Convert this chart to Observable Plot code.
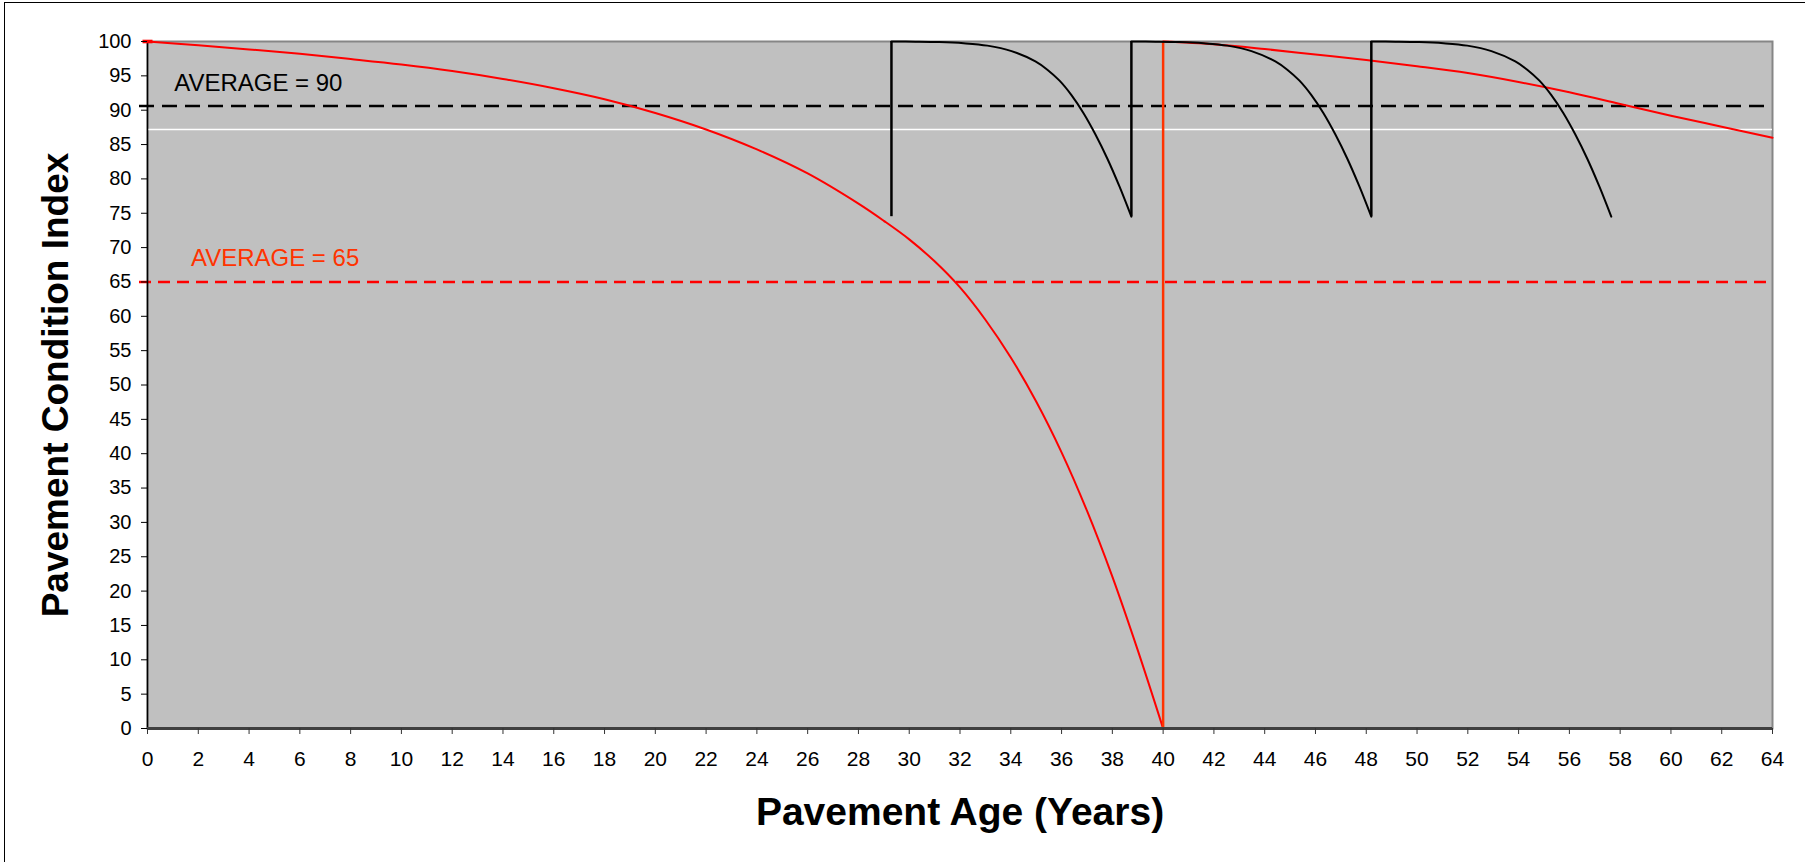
<!DOCTYPE html>
<html>
<head>
<meta charset="utf-8">
<script src="https://cdn.jsdelivr.net/npm/d3@7"></script>
<script src="https://cdn.jsdelivr.net/npm/@observablehq/plot@0.6"></script>
<style>
  html, body { margin: 0; padding: 0; background: #fff; overflow: hidden; }
  #wrap { position: relative; width: 1805px; height: 862px; }
  #border { position: absolute; left: 4px; top: 2px; width: 3000px; height: 3000px;
            border-left: 1.5px solid #000; border-top: 1.5px solid #000; pointer-events: none; }
  svg { display: block; }
</style>
</head>
<body>
<div id="wrap"><div id="border"></div></div>
<script>
// ---- axis ticks ----
const xTicks = [0,2,4,6,8,10,12,14,16,18,20,22,24,26,28,30,32,34,36,38,40,42,44,46,48,50,52,54,56,58,60,62,64];
const yTicks = [0,5,10,15,20,25,30,35,40,45,50,55,60,65,70,75,80,85,90,95,100];
const xDomain = [0, 64];
const yDomain = [0, 100];

// ---- red deterioration curve (no maintenance), first life ----
const redX1 = [0,2,4,6,8,10,12,14,16,18,20,22,24,26,28,29,30,31,32,33,34,35,36,37,38,39,40];
const redY1 = [100,99.45,98.85,98.2,97.45,96.65,95.7,94.55,93.2,91.6,89.6,87.2,84.3,80.8,76.4,73.9,71.2,68.0,64.2,59.5,54.0,47.6,40.2,31.7,22.1,11.4,0];
// ---- red curve, second life after reconstruction ----
const redX2 = [40,42,44,46,48,50,52,54,56,58,60,62,64];
const redY2 = [100,99.6,98.9,98.1,97.3,96.4,95.4,94.1,92.6,90.9,89.2,87.6,86.0];
// reconstruction jump
const redJumpX = [40];
const redJumpLow = [0];
const redJumpHigh = [100];

// ---- black curves (preservation cycles) ----
const blackX1 = [29.3,30.25,31.19,32.14,33.08,34.03,34.97,35.44,35.92,36.39,36.86,37.33,37.81,38.28,38.75];
const blackX2 = [38.75,39.70,40.64,41.59,42.53,43.48,44.42,44.89,45.37,45.84,46.31,46.78,47.26,47.73,48.20];
const blackX3 = [48.20,49.15,50.09,51.04,51.98,52.93,53.87,54.34,54.82,55.29,55.76,56.23,56.71,57.18,57.65];
const blackY1 = [100,99.98,99.92,99.75,99.4,98.6,97.1,95.9,94.3,92.2,89.6,86.5,82.9,78.9,74.5];
const blackY2 = [100,99.98,99.92,99.75,99.4,98.6,97.1,95.9,94.3,92.2,89.6,86.5,82.9,78.9,74.5];
const blackY3 = [100,99.98,99.92,99.75,99.4,98.6,97.1,95.9,94.3,92.2,89.6,86.5,82.9,78.9,74.5];
const blackJumpX = [29.3, 38.75, 48.2];
const blackJumpLow = [74.5, 74.5, 74.5];
const blackJumpHigh = [100, 100, 100];

// ---- reference lines ----
const avgBlackY = [90.6];
const avgRedY = [65];
const whiteLineY = [87.2];

// ---- annotations ----
const labelTexts = ["AVERAGE = 90", "AVERAGE = 65"];
const labelX = [1.05, 1.71];
const labelY = [92.8, 67.25];
const labelColors = ["#000000", "#FF3300"];

const xTitle = "Pavement Age (Years)";
const yTitle = "Pavement Condition Index";

// ---- build tables ----
const toPts = (xs, ys, id) => xs.map((x, i) => ({x, y: ys[i], id}));
const redData = [...toPts(redX1, redY1, "r1"), ...toPts(redX2, redY2, "r2")];
const blackData = [...toPts(blackX1, blackY1, "b1"), ...toPts(blackX2, blackY2, "b2"), ...toPts(blackX3, blackY3, "b3")];
const redJumps = redJumpX.map((x, i) => ({x, y1: redJumpLow[i], y2: redJumpHigh[i]}));
const blackJumps = blackJumpX.map((x, i) => ({x, y1: blackJumpLow[i], y2: blackJumpHigh[i]}));
const labels = labelTexts.map((t, i) => ({t, x: labelX[i], y: labelY[i], c: labelColors[i]}));

const dashSymbol = { draw(ctx) { ctx.rect(-5, -1.8, 10, 3.6); } };

const chart = Plot.plot({
  width: 1805,
  height: 862,
  marginLeft: 147,
  marginRight: 33,
  marginTop: 41,
  marginBottom: 134,
  style: { fontFamily: "'Liberation Sans', Arial, sans-serif", color: "#000", background: "transparent", overflow: "visible" },
  x: { domain: xDomain },
  y: { domain: yDomain },
  marks: [
    Plot.frame({ fill: "#C0C0C0", stroke: "#868686", strokeWidth: 2 }),
    Plot.ruleY(whiteLineY, { stroke: "#FFFFFF", strokeWidth: 1.5 }),
    Plot.ruleY(avgBlackY, { stroke: "#000", strokeWidth: 2.5, strokeDasharray: "15,8", insetLeft: -8 }),
    Plot.ruleY(avgRedY, { stroke: "#FF0000", strokeWidth: 2.5, strokeDasharray: "12,7", insetLeft: -8 }),
    Plot.line(redData, { x: "x", y: "y", z: "id", stroke: "#FF0000", strokeWidth: 2, curve: "catmull-rom" }),
    Plot.ruleX(redJumps, { x: "x", y1: "y1", y2: "y2", stroke: "#FF3300", strokeWidth: 2.5 }),
    Plot.line(blackData, { x: "x", y: "y", z: "id", stroke: "#000", strokeWidth: 2, curve: "catmull-rom" }),
    Plot.ruleX(blackJumps, { x: "x", y1: "y1", y2: "y2", stroke: "#000", strokeWidth: 2.5 }),
    Plot.ruleX([xDomain[0]], { stroke: "#000", strokeWidth: 1.5 }),
    Plot.ruleY([yDomain[0]], { stroke: "#404040", strokeWidth: 3 }),
    Plot.dot([{x: redX1[0], y: redY1[0]}], { x: "x", y: "y", symbol: dashSymbol, fill: "#FF0000", stroke: "none" }),
    Plot.axisX({ ticks: xTicks, tickSize: 6, tickPadding: 17, fontSize: 21, tickFormat: d => String(d), label: null, stroke: "#333" }),
    Plot.axisY({ ticks: yTicks, tickSize: 6, tickPadding: 10, fontSize: 20, tickFormat: d => String(d), label: null }),
    Plot.text(labels, { x: "x", y: "y", text: "t", fill: "c", textAnchor: "start", lineAnchor: "bottom", fontSize: 24 }),
    Plot.text([xTitle], { text: d => d, frameAnchor: "bottom", textAnchor: "middle", dy: 84, lineAnchor: "middle", fontSize: 39, fontWeight: "bold" }),
    Plot.text([yTitle], { text: d => d, frameAnchor: "left", textAnchor: "middle", rotate: -90, dx: -91, lineAnchor: "middle", fontSize: 37, fontWeight: "bold" })
  ]
});
document.getElementById("wrap").prepend(chart);
</script>
</body>
</html>
